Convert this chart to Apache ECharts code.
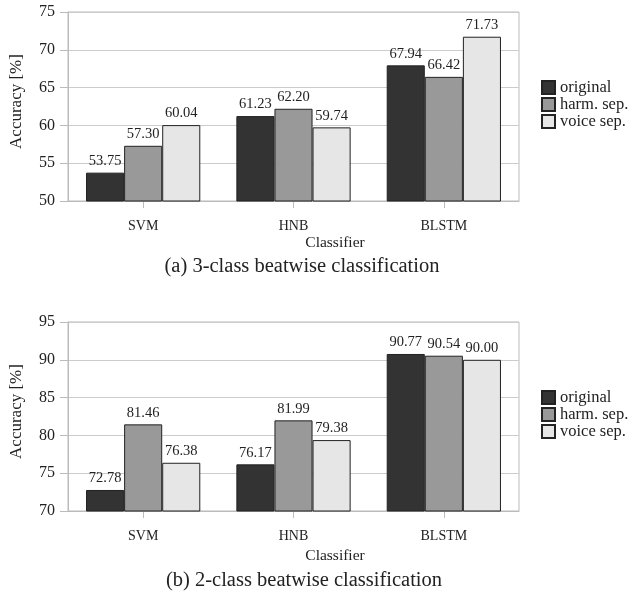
<!DOCTYPE html>
<html><head><meta charset="utf-8">
<script src="https://cdn.jsdelivr.net/npm/echarts@6/dist/echarts.min.js"></script>
<style>html,body{margin:0;padding:0;background:#fff}#c{width:630px;height:599px}</style>
</head><body><div id="c"></div>
<script>
const categories = ['SVM', 'HNB', 'BLSTM'];
const seriesNames = ['original', 'harm. sep.', 'voice sep.'];
const colors = ['#333333', '#999999', '#e6e6e6'];
// (a) 3-class
const a_original = [53.75, 61.23, 67.94];
const a_harm = [57.30, 62.20, 66.42];
const a_voice = [60.04, 59.74, 71.73];
// (b) 2-class
const b_original = [72.78, 76.17, 90.77];
const b_harm = [81.46, 81.99, 90.54];
const b_voice = [76.38, 79.38, 90.00];
const yTicksA = [50, 75, 5];
const yTicksB = [70, 95, 5];

const FONT = '"Liberation Serif", "DejaVu Serif", serif';
const chart = echarts.init(document.getElementById('c'));

function mkSeries(name, data, idx, axis) {
  return {
    name: name, type: 'bar', data: data,
    xAxisIndex: axis, yAxisIndex: axis,
    barGap: '0%', barCategoryGap: '24%',
    itemStyle: { color: colors[idx], borderColor: '#222', borderWidth: 1 },
    label: { show: true, position: 'top', distance: 4, fontFamily: FONT, fontSize: 14.5, color: '#222',
      formatter: p => p.value.toFixed(2) }
  };
}
function mkX(grid) {
  return {
    type: 'category', gridIndex: grid, data: categories,
    axisLine: { lineStyle: { color: '#bbb' } },
    axisTick: { show: true, alignWithLabel: true, length: 7, lineStyle: { color: '#bbb' } },
    axisLabel: { fontFamily: FONT, fontSize: 14, color: '#222', margin: 18 }
  };
}
function mkY(grid, t) {
  return {
    type: 'value', gridIndex: grid, min: t[0], max: t[1], interval: t[2],
    name: 'Accuracy [%]', nameLocation: 'middle', nameGap: 43, nameRotate: 90,
    nameTextStyle: { fontFamily: FONT, fontSize: 17, color: '#222', padding: [0, 0, 0, 10] },
    axisLine: { show: true, lineStyle: { color: '#bbb' } },
    axisTick: { show: true, length: 8, lineStyle: { color: '#bbb' } },
    axisLabel: { fontFamily: FONT, fontSize: 16, color: '#222', margin: 13 },
    splitLine: { lineStyle: { color: '#ccc', width: 1 } }
  };
}
const legendCommon = {
  orient: 'vertical', left: 541, itemWidth: 13, itemHeight: 13, itemGap: 0, padding: 0,
  icon: 'rect', selectedMode: false,
  textStyle: { fontFamily: FONT, fontSize: 16.5, color: '#222' },
  data: seriesNames
};
chart.setOption({
  animation: false,
  grid: [
    { left: 66, top: 12, width: 453, height: 189, show: true, borderColor: '#bbb', borderWidth: 1 },
    { left: 66, top: 322, width: 453, height: 189, show: true, borderColor: '#bbb', borderWidth: 1 }
  ],
  xAxis: [mkX(0), mkX(1)],
  yAxis: [mkY(0, yTicksA), mkY(1, yTicksB)],
  legend: [
    Object.assign({}, legendCommon, { top: 79 }),
    Object.assign({}, legendCommon, { top: 389 })
  ],
  title: [
    { text: 'Classifier', left: 335, top: 235, textAlign: 'center', textStyle: { fontFamily: FONT, fontSize: 15.5, fontWeight: 'normal', color: '#222' }, padding: 0 },
    { text: '(a) 3-class beatwise classification', left: 302, top: 256, textAlign: 'center', textStyle: { fontFamily: FONT, fontSize: 20.5, fontWeight: 'normal', color: '#222' }, padding: 0 },
    { text: 'Classifier', left: 335, top: 548, textAlign: 'center', textStyle: { fontFamily: FONT, fontSize: 15.5, fontWeight: 'normal', color: '#222' }, padding: 0 },
    { text: '(b) 2-class beatwise classification', left: 304, top: 570, textAlign: 'center', textStyle: { fontFamily: FONT, fontSize: 20.5, fontWeight: 'normal', color: '#222' }, padding: 0 }
  ],
  series: [
    mkSeries(seriesNames[0], a_original, 0, 0),
    mkSeries(seriesNames[1], a_harm, 1, 0),
    mkSeries(seriesNames[2], a_voice, 2, 0),
    mkSeries(seriesNames[0], b_original, 0, 1),
    mkSeries(seriesNames[1], b_harm, 1, 1),
    mkSeries(seriesNames[2], b_voice, 2, 1)
  ]
});
</script></body></html>
